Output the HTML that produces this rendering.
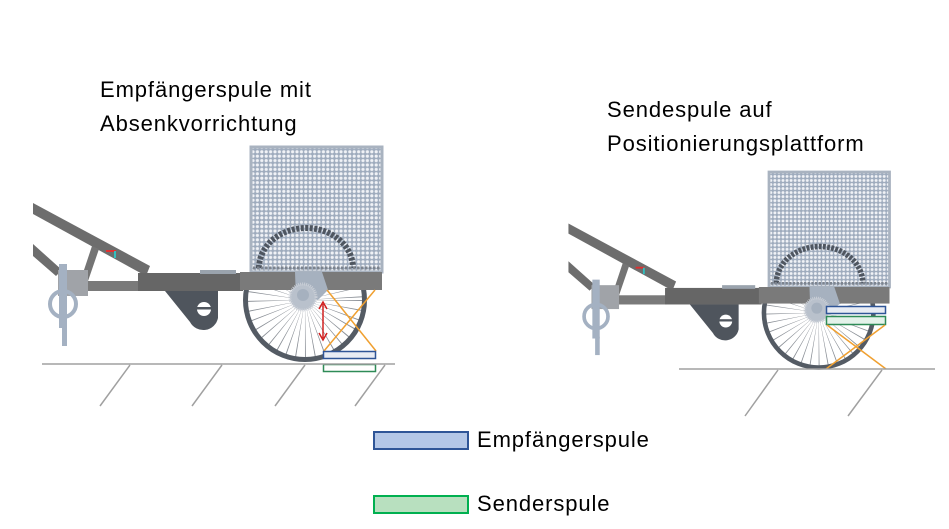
<!DOCTYPE html>
<html><head><meta charset="utf-8"><style>
html,body{margin:0;padding:0;background:#fff;}
svg{display:block;}
text{font-family:"Liberation Sans",sans-serif;font-size:22px;letter-spacing:0.9px;fill:#000;}
</style></head><body>
<svg width="949" height="529" viewBox="0 0 949 529" xmlns="http://www.w3.org/2000/svg">
<defs>
<pattern id="dots" width="4.4" height="4.4" patternUnits="userSpaceOnUse">
<rect width="4.4" height="4.4" fill="#9eabbd"/>
<circle cx="2.2" cy="2.2" r="1.6" fill="#f0f2f6"/>
</pattern>
<g id="trailer">
<circle cx="305" cy="300" r="29" fill="none" stroke="#8a8f96" stroke-width="58" stroke-dasharray="0.5 4.5"/>
<circle cx="305" cy="300" r="59.5" fill="none" stroke="#545b64" stroke-width="5"/>
<rect x="251" y="147" width="131" height="125" fill="url(#dots)"/>
<rect x="251" y="147" width="131" height="125" fill="none" stroke="#a9b3c0" stroke-width="3"/>
<path d="M259 268 A47 40 0 0 1 353 268" fill="none" stroke="#4f5660" stroke-width="6" stroke-dasharray="3 1.5"/>
<path d="M253 268 L380 268" stroke="#7d848e" stroke-width="3" stroke-dasharray="2.5 1.5"/>
<path d="M33 203 L150 266 L146 276 L33 214 Z" fill="#6d6d6d"/>
<path d="M33 244 L62 270 L56 276 L33 256 Z" fill="#6d6d6d"/>
<path d="M80 282 L92 246 L99 249 L87 284 Z" fill="#747474"/>
<rect x="85" y="281" width="55" height="10" fill="#7a7a7a"/>
<rect x="58" y="270" width="30" height="26" fill="#a0a3a8"/>
<rect x="138" y="273" width="105" height="18" fill="#666"/>
<rect x="240" y="272" width="142" height="18" fill="#7a7a7a"/>
<rect x="200" y="270" width="36" height="4" fill="#9aa3ad"/>
<path d="M165 291 L218 291 L218 318 A15 15 0 0 1 190 322 Z" fill="#4f555d"/>
<circle cx="204" cy="309" r="7" fill="#fff"/>
<rect x="196" y="307" width="20" height="2.5" fill="#4f555d"/>
<path d="M295 272 L322 272 L328 290 L318 300 L296 300 Z" fill="#a6b1bf"/>
<circle cx="303" cy="297" r="13" fill="#b9c1cc" stroke="#c9ced6" stroke-width="3" stroke-dasharray="1 1"/>
<circle cx="303" cy="295" r="6" fill="#a6b1bf"/>
<circle cx="63" cy="304" r="13" fill="none" stroke="#a4b1c2" stroke-width="4"/>
<rect x="59" y="264" width="8" height="64" fill="#a4b1c2"/>
<rect x="62" y="326" width="5" height="20" fill="#a4b1c2"/>
<line x1="106" y1="251" x2="116" y2="251" stroke="#e03030" stroke-width="2"/>
<line x1="115" y1="251" x2="115" y2="258" stroke="#30c0c0" stroke-width="2"/>
</g>
</defs>

<use href="#trailer"/>
<line x1="323" y1="304" x2="323" y2="338" stroke="#d02020" stroke-width="1.5"/>
<path d="M319 309 L323 302 L327 309 M319 333 L323 340 L327 333" fill="none" stroke="#d02020" stroke-width="1.5"/>
<line x1="324" y1="351" x2="375" y2="290" stroke="#f0a030" stroke-width="1.5"/>
<line x1="327" y1="290" x2="376" y2="351" stroke="#f0a030" stroke-width="1.5"/>
<rect x="323.5" y="351.5" width="52" height="7" fill="#e8ecf4" stroke="#2f5597" stroke-width="1.5"/>
<rect x="323.5" y="364.5" width="52" height="7" fill="#fff" stroke="#2e8b57" stroke-width="1.5"/>
<line x1="42" y1="364" x2="395" y2="364" stroke="#a0a0a0" stroke-width="1.5"/>
<g stroke="#a0a0a0" stroke-width="1.5">
<line x1="100" y1="406" x2="130" y2="365"/><line x1="192" y1="406" x2="222" y2="365"/>
<line x1="275" y1="406" x2="305" y2="365"/><line x1="355" y1="406" x2="385" y2="365"/>
</g>

<use href="#trailer" transform="translate(769,172) scale(0.92) translate(-251,-147)"/>
<rect x="826.5" y="306.5" width="59" height="7" fill="#e8ecf4" stroke="#2f5597" stroke-width="1.5"/>
<rect x="826.5" y="316.5" width="59" height="8" fill="#e4f2ea" stroke="#2e8b57" stroke-width="1.5"/>
<line x1="827" y1="325" x2="886" y2="369" stroke="#f0a030" stroke-width="1.5"/>
<line x1="885" y1="325" x2="826" y2="369" stroke="#f0a030" stroke-width="1.5"/>
<line x1="679" y1="369" x2="935" y2="369" stroke="#a0a0a0" stroke-width="1.5"/>
<g stroke="#a0a0a0" stroke-width="1.5">
<line x1="745" y1="416" x2="778" y2="370"/><line x1="848" y1="416" x2="882" y2="370"/>
</g>

<text x="100" y="97">Empfängerspule mit</text>
<text x="100" y="131">Absenkvorrichtung</text>
<text x="607" y="117">Sendespule auf</text>
<text x="607" y="151">Positionierungsplattform</text>

<rect x="374" y="432" width="94" height="17" fill="#b4c7e7" stroke="#2f5597" stroke-width="2"/>
<text x="477" y="447">Empfängerspule</text>
<rect x="374" y="496" width="94" height="17" fill="#b8e0bf" stroke="#00b050" stroke-width="2"/>
<text x="477" y="511">Senderspule</text>
</svg>
</body></html>
